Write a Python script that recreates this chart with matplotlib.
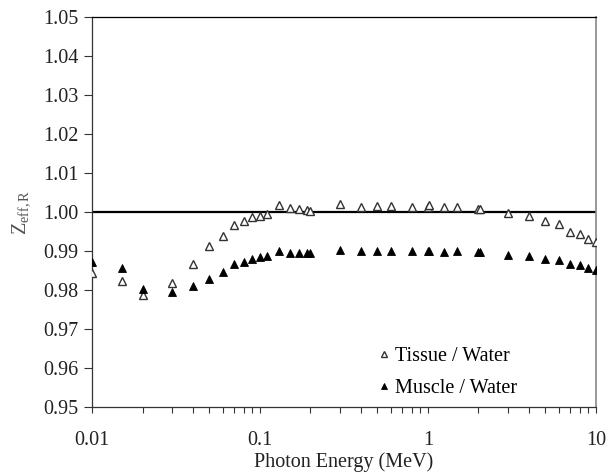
import matplotlib
matplotlib.use("Agg")
import matplotlib.pyplot as plt
from matplotlib.ticker import LogLocator, FixedLocator, FixedFormatter, NullFormatter

plt.rcParams['font.family'] = ['Liberation Serif', 'DejaVu Serif']
plt.rcParams['mathtext.fontset'] = 'custom'
plt.rcParams['mathtext.rm'] = 'Liberation Serif'
plt.rcParams['mathtext.it'] = 'Liberation Serif:italic'

energy = [0.01, 0.015, 0.02, 0.03, 0.04, 0.05, 0.06, 0.07, 0.08, 0.09, 0.1,
          0.11, 0.13, 0.15, 0.17, 0.19, 0.2, 0.3, 0.4, 0.5, 0.6, 0.8, 1.0,
          1.022, 1.25, 1.5, 2.0, 2.044, 3.0, 4.0, 5.0, 6.0, 7.0, 8.0, 9.0, 10.0]
tissue = [0.9843, 0.9823, 0.9787, 0.9819, 0.9866, 0.9913, 0.9939, 0.9966, 0.9977, 0.9987, 0.9990,
          0.9996, 1.0017, 1.0010, 1.0008, 1.0005, 1.0003, 1.0021, 1.0014, 1.0016, 1.0015, 1.0014, 1.0014,
          1.0018, 1.0013, 1.0013, 1.0008, 1.0008, 0.9997, 0.9991, 0.9976, 0.9969, 0.9950, 0.9943, 0.9931, 0.9922]
muscle = [0.9873, 0.9856, 0.9803, 0.9794, 0.9809, 0.9828, 0.9847, 0.9866, 0.9873, 0.9880, 0.9884,
          0.9888, 0.9899, 0.9896, 0.9895, 0.9894, 0.9894, 0.9902, 0.9899, 0.9901, 0.9901, 0.9900, 0.9901,
          0.9901, 0.9898, 0.9899, 0.9897, 0.9898, 0.9890, 0.9886, 0.9879, 0.9876, 0.9866, 0.9863, 0.9856, 0.9852]
ref_x = [0.01, 10]
ref_y = [1.0, 1.0]
yticks = [0.95, 0.96, 0.97, 0.98, 0.99, 1.00, 1.01, 1.02, 1.03, 1.04, 1.05]
xticks = [0.01, 0.1, 1, 10]
xticklabels = ['0.01', '0.1', '1', '10']

FS = 14.5

fig = plt.figure(figsize=(6.08, 4.74), dpi=100)
ax = fig.add_axes([0.1513, 0.1414, 0.8287, 0.8226])

ax.plot(ref_x, ref_y, color='black', lw=1.6, zorder=1)
ax.plot(energy, tissue, linestyle='none', marker='^', markersize=6,
        markerfacecolor='white', markeredgecolor='#333333', markeredgewidth=1.0,
        label='Tissue / Water', zorder=3)
ax.plot(energy, muscle, linestyle='none', marker='^', markersize=6,
        markerfacecolor='black', markeredgecolor='black', markeredgewidth=0.6,
        label='Muscle / Water', zorder=3)

ax.set_xscale('log')
ax.set_xlim(0.01, 10)
ax.set_ylim(0.95, 1.05)
ax.xaxis.set_major_locator(FixedLocator(xticks))
ax.xaxis.set_major_formatter(FixedFormatter(xticklabels))
ax.xaxis.set_minor_locator(LogLocator(base=10, subs=range(2, 10)))
ax.xaxis.set_minor_formatter(NullFormatter())
ax.set_yticks(yticks)
ax.set_yticklabels([f'{v:.2f}' for v in yticks])

ax.tick_params(axis='both', which='major', labelsize=FS, colors='#333333',
               labelcolor='#222222', width=0.8)
ax.tick_params(axis='x', which='both', direction='out', length=4, width=0.8,
               color='#333333', pad=13)
ax.tick_params(axis='y', which='major', direction='out', length=6, pad=4)

for s in ['left', 'bottom']:
    ax.spines[s].set_color('#333333')
    ax.spines[s].set_linewidth(0.9)
ax.spines['top'].set_color('black')
ax.spines['top'].set_linewidth(0.9)
ax.spines['right'].set_color('#888888')
ax.spines['right'].set_linewidth(1.2)

ax.set_xlabel('Photon Energy (MeV)', fontsize=FS, color='#222222', labelpad=2)
ax.set_ylabel(r'$\mathrm{Z_{eff,R}}$', fontsize=FS, color='#555555', labelpad=8)

ax.legend(loc='center left', bbox_to_anchor=(0.548, 0.088), frameon=False,
          fontsize=FS, handletextpad=0.15, markerscale=0.75, labelspacing=0.65,
          handlelength=0.8, borderaxespad=0)

fig.savefig('out.png', dpi=100)
